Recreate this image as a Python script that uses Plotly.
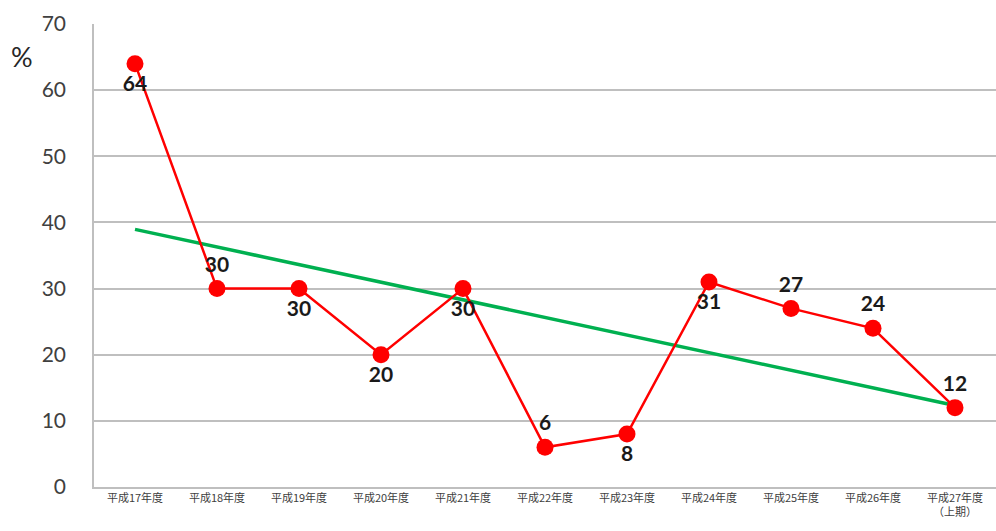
import numpy as np
import plotly.graph_objects as go

# Fiscal years (Heisei era) and the percentage for each year
years = ["平成17年度", "平成18年度", "平成19年度", "平成20年度", "平成21年度",
         "平成22年度", "平成23年度", "平成24年度", "平成25年度", "平成26年度",
         "平成27年度<br>（上期）"]
rates = [64, 30, 30, 20, 30, 6, 8, 31, 27, 24, 12]
label_pos = ["bottom center", "top center", "bottom center", "bottom center",
             "bottom center", "top center", "bottom center", "bottom center",
             "top center", "top center", "top center"]
y_ticks = [0, 10, 20, 30, 40, 50, 60, 70]

# Linear trend fitted over the yearly values
idx = np.arange(len(rates))
slope, intercept = np.polyfit(idx, rates, 1)
trend = slope * idx + intercept

fig = go.Figure()
fig.add_trace(go.Scatter(
    x=years, y=trend, mode="lines",
    line=dict(color="#00b050", width=3.5),
    hoverinfo="skip", showlegend=False,
))
fig.add_trace(go.Scatter(
    x=years, y=rates, mode="lines+markers+text",
    line=dict(color="#ff0000", width=2.5),
    marker=dict(color="#ff0000", size=17),
    text=[str(v) for v in rates],
    textposition=label_pos,
    textfont=dict(family="Lato, Open Sans, sans-serif", size=21, color="#1a1a1a", weight="bold"),
    showlegend=False,
))

fig.add_annotation(
    text="%", xref="paper", yref="paper", x=-0.0798, y=0.929,
    xanchor="center", yanchor="middle", showarrow=False,
    font=dict(family="Lato, Open Sans, sans-serif", size=27, color="#262626"),
)

fig.update_layout(
    width=996, height=531,
    margin=dict(l=94, r=0, t=24, b=44),
    paper_bgcolor="white", plot_bgcolor="white",
    xaxis=dict(
        type="category", range=[-0.5, len(years) - 0.5],
        showgrid=False, showline=True, linecolor="#bfbfbf", linewidth=1.5,
        ticks="", tickfont=dict(family="Noto Sans CJK JP", size=11, color="#404040"),
        fixedrange=True,
    ),
    yaxis=dict(
        range=[0, 70], tickvals=y_ticks,
        showgrid=True, gridcolor="#bfbfbf", gridwidth=1.5,
        showline=True, linecolor="#bfbfbf", linewidth=1.5,
        zeroline=False, ticks="", ticklabelstandoff=22,
        tickfont=dict(family="Lato, Open Sans, sans-serif", size=21, color="#404040"),
        fixedrange=True,
    ),
)

fig.write_html("out.html")
